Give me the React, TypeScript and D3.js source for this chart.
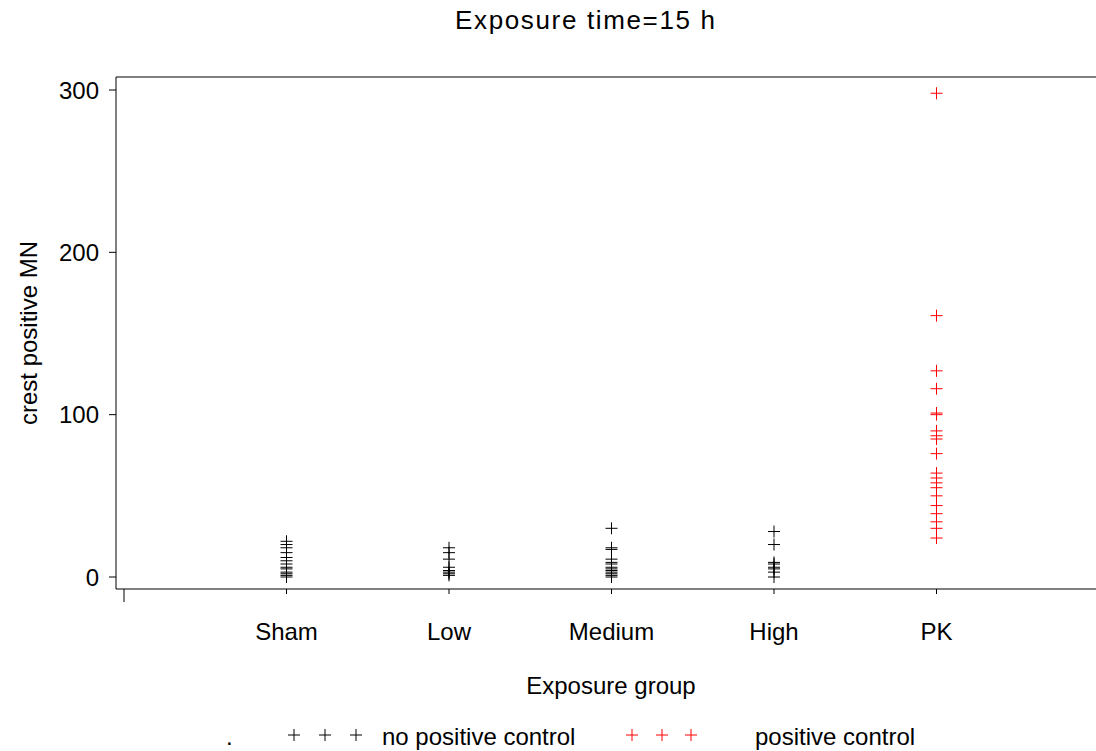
import React from "react";
import * as d3 from "d3";

const categories = ["Sham", "Low", "Medium", "High", "PK"];
const shamValues = [22, 20, 18, 15, 12, 10, 8, 6, 5, 3, 2, 1, 0];
const lowValues = [18, 15, 11, 6, 4, 3, 2, 1];
const mediumValues = [30, 18, 17, 11, 9, 8, 6, 5, 4, 3, 2, 1, 0];
const highValues = [28, 20, 9, 8, 6, 5, 3, 0];
const pkValues = [298, 161, 127, 116, 101, 100, 90, 87, 85, 76, 64, 61, 58, 55, 50, 44, 39, 34, 30, 24];
const yTicks = [0, 100, 200, 300];
const groupValues = [shamValues, lowValues, mediumValues, highValues, pkValues];
const groupIsControl = [false, false, false, false, true];

const W = 1096;
const H = 751;
const FONT = "'Liberation Sans', Arial, sans-serif";
const FS = 24;

export default function App() {
  const x = d3.scaleLinear().domain([0, 6]).range([124, 1099]);
  const y = d3.scaleLinear().domain([0, 300]).range([577, 90]);
  const left = 116;
  const top = 77;
  const bottom = 589;
  const arm = 6;

  const plus = (cx: number, cy: number, color: string, key: string) => (
    <g key={key} stroke={color} strokeWidth={1}>
      <line x1={cx - arm} x2={cx + arm} y1={cy} y2={cy} />
      <line x1={cx} x2={cx} y1={cy - arm} y2={cy + arm} />
    </g>
  );

  return (
    <svg
      width={W}
      height={H}
      style={{ position: "absolute", left: 0, top: 0, background: "#fff" }}
      fontFamily={FONT}
    >
      <rect x={0} y={0} width={W} height={H} fill="#fff" />
      <text x={455} y={29} textLength={260} lengthAdjust="spacing" fontSize={26} fill="#000">
        Exposure time=15 h
      </text>
      {/* frame */}
      <line x1={left} x2={W + 10} y1={top} y2={top} stroke="#000" strokeWidth={1} />
      <line x1={left} x2={left} y1={top} y2={bottom} stroke="#000" strokeWidth={1} />
      <line x1={left} x2={W + 10} y1={bottom} y2={bottom} stroke="#000" strokeWidth={1} />
      {/* y ticks */}
      {yTicks.map((t) => (
        <g key={"yt" + t}>
          <line x1={109} x2={left} y1={y(t)} y2={y(t)} stroke="#000" />
          <text x={99} y={y(t) + 8.5} textAnchor="end" fontSize={FS} fill="#000">
            {t}
          </text>
        </g>
      ))}
      {/* x ticks */}
      <line x1={x(0)} x2={x(0)} y1={bottom} y2={bottom + 13} stroke="#000" />
      {categories.map((c, i) => (
        <g key={"xt" + c}>
          <line x1={x(i + 1)} x2={x(i + 1)} y1={bottom} y2={bottom + 5} stroke="#000" />
          <text x={x(i + 1)} y={640} textAnchor="middle" fontSize={FS} fill="#000">
            {c}
          </text>
        </g>
      ))}
      <text x={611} y={694} textAnchor="middle" fontSize={FS} fill="#000">
        Exposure group
      </text>
      <text
        transform={`translate(37, 333) rotate(-90)`}
        textAnchor="middle"
        fontSize={FS}
        fill="#000"
      >
        crest positive MN
      </text>
      {/* data */}
      {groupValues.map((vals, gi) =>
        vals.map((v, j) =>
          plus(x(gi + 1), y(v), groupIsControl[gi] ? "#ff0000" : "#000", `p${gi}-${j}`)
        )
      )}
      {/* legend */}
      <text x={226} y={745} fontSize={FS} fill="#000">.</text>
      {[294, 325, 356].map((lx, i) => plus(lx, 735, "#000", "lb" + i))}
      <text x={382} y={745} fontSize={FS} fill="#000">no positive control</text>
      {[632, 662, 691].map((lx, i) => plus(lx, 735, "#ff0000", "lr" + i))}
      <text x={755} y={745} fontSize={FS} fill="#000">positive control</text>
    </svg>
  );
}
